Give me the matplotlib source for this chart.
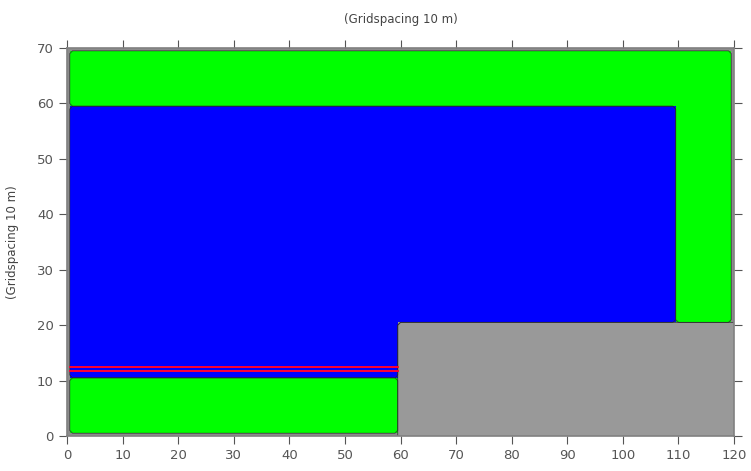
import numpy as np
import matplotlib
matplotlib.use("Agg")
import matplotlib.pyplot as plt
from matplotlib.colors import ListedColormap

# model grid (nodes, gridspacing 10 m)
nx = 120
ny = 70

# region extents in grid nodes (inclusive): i0, i1, j0, j1
water_box = (1, 109, 11, 59)    # blue
land_box = (60, 120, 0, 20)     # grey
# red channel lines
channel_y = [11.7, 12.45]
channel_x = [0.5, 59.5]

xticks = list(range(0, 121, 10))
yticks = list(range(0, 71, 10))

# categories: 0 frame, 1 green, 2 blue, 3 land
grid = np.ones((ny + 1, nx + 1), dtype=int)
i0, i1, j0, j1 = water_box
grid[j0:j1 + 1, i0:i1 + 1] = 2
i0, i1, j0, j1 = land_box
grid[j0:j1 + 1, i0:i1 + 1] = 3
frame = np.zeros_like(grid, dtype=bool)
frame[0, :] = frame[-1, :] = True
frame[:, 0] = frame[:, -1] = True
grid[frame & (grid != 3)] = 0

cmap = ListedColormap(["#8c8c8c", "#00ff00", "#0000ff", "#999999"])

fig = plt.figure(figsize=(7.51, 4.71), dpi=100)
ax = fig.add_axes([0.0892, 0.0743, 0.8882, 0.8237])

xe = np.arange(-0.5, nx + 1.0, 1.0)
ye = np.arange(-0.5, ny + 1.0, 1.0)
ax.pcolormesh(xe, ye, grid, cmap=cmap, vmin=-0.5, vmax=3.5, shading="flat")

# thin outlines round each region
xs = np.arange(nx + 1)
ys = np.arange(ny + 1)
for k in (1, 2, 3):
    ax.contour(xs, ys, (grid == k).astype(float), levels=[0.5],
               colors="#2a2a2a", linewidths=0.6, alpha=0.8)

for y in channel_y:
    ax.plot(channel_x, [y, y], color="#ff0030", lw=1.4)

ax.set_xlim(0, nx)
ax.set_ylim(0, ny)
ax.set_xticks(xticks)
ax.set_yticks(yticks)
ax.tick_params(direction="out", length=6, width=0.8, color="#555555",
               top=True, right=True, labelsize=9.5, labelcolor="#555555")
for s in ax.spines.values():
    s.set_color("#808080")
    s.set_linewidth(1.2)

ax.set_title("(Gridspacing 10 m)", fontsize=8.5, color="#444444", pad=18)
ax.set_ylabel("(Gridspacing 10 m)", fontsize=8.5, color="#444444", labelpad=13)

fig.savefig("out.png", dpi=100)
